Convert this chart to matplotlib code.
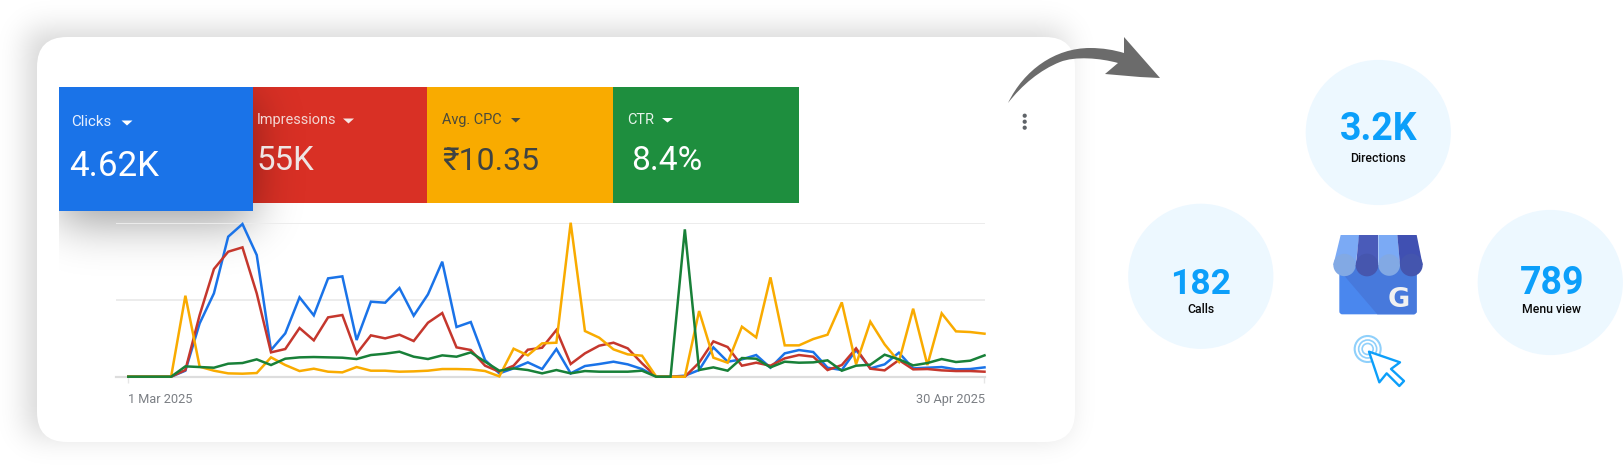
import math
import numpy as np
import matplotlib
matplotlib.use("Agg")
import matplotlib.pyplot as plt
from matplotlib.patches import Rectangle, Circle, Polygon, FancyBboxPatch, PathPatch
from matplotlib.path import Path

days = list(range(61))
x_tick_days = [0, 60]
x_tick_labels = ["1 Mar 2025", "30 Apr 2025"]
grid_levels = [0, 231, 462]

clicks = [0,0,0,0,18,160,250,420,458,365,80,130,238,184,295,301,110,225,222,266,183,247,345,149,164,50,10,25,43,23,83,10,32,38,45,37,23,0,0,3,20,88,45,52,65,27,70,80,74,27,20,80,25,37,72,25,27,29,22,23,28]
impressions = [0,0,0,0,20,185,323,375,388,250,73,83,146,109,178,185,69,124,115,126,107,162,191,88,80,33,15,33,81,87,140,38,70,93,102,85,40,0,0,0,42,106,89,33,42,33,55,65,60,20,35,85,24,19,50,22,23,19,17,17,15]
avg_cpc = [0,0,0,0,243,30,18,10,9,11,58,35,17,24,15,13,29,18,18,15,16,18,23,23,22,17,1,84,64,100,102,462,137,117,82,67,63,0,0,0,197,57,42,150,118,298,94,94,113,126,223,37,165,97,45,204,35,190,136,134,129]
ctr = [0,0,0,0,31,29,27,39,41,52,35,54,58,59,58,57,53,65,69,75,60,53,64,60,73,45,18,25,20,10,20,10,17,15,15,15,18,0,0,442,20,28,18,56,54,28,45,42,43,49,18,33,36,66,52,34,41,53,44,48,64]

tab_names = ["Clicks", "Impressions", "Avg. CPC", "CTR"]
tab_values = ["4.62K", "55K", "₹10.35", "8.4%"]
stat_values = ["3.2K", "182", "789"]
stat_names = ["Directions", "Calls", "Menu view"]

BLUE, RED, ORANGE, GREEN = "#1a73e8", "#d93025", "#f9ab00", "#1e8e3e"
LBLUE, LRED, LORANGE, LGREEN = "#1a73e8", "#c5372d", "#f9ab00", "#188038"
FONT = ["Roboto", "Noto Sans", "DejaVu Sans"]
W, H = 1623, 466
plt.rcParams["font.family"] = FONT
PX = 0.72

fig = plt.figure(figsize=(W / 100, H / 100), dpi=100, facecolor="white")
bg = fig.add_axes([0, 0, 1, 1])
bg.set_axis_off()

erf = np.vectorize(math.erf)
def blur(lo, hi, n, s):
    t = np.arange(n) + 0.5
    return 0.5 * (erf((t - lo) / (s * 2**0.5)) - erf((t - hi) / (s * 2**0.5)))

def shadow(x0, x1, y0, y1, s, a, z, clip_x=None, clip_y=None):
    al = np.outer(blur(y0, y1, H, s), blur(x0, x1, W, s)) * a
    if clip_x is not None:
        al[:, :clip_x] = 0
    if clip_y is not None:
        al[:clip_y, :] = 0
    img = np.zeros((H, W, 4))
    img[..., 3] = al
    bg.imshow(img, extent=(0, W, H, 0), zorder=z, interpolation="nearest", aspect="auto")

shadow(37 - 10, 1075 - 10, 37 - 7, 442 - 7, 15, 0.17, 1)
bg.add_patch(FancyBboxPatch((37, 37), 1038, 405, boxstyle="round,pad=0,rounding_size=30",
                            fc="white", ec="none", zorder=2))
# tabs
bg.add_patch(Rectangle((253, 87), 174, 116, fc=RED, ec="none", zorder=3))
bg.add_patch(Rectangle((427, 87), 186, 116, fc=ORANGE, ec="none", zorder=3))
bg.add_patch(Rectangle((613, 87), 186, 116, fc=GREEN, ec="none", zorder=3))
shadow(59, 253, 97, 223, 23, 0.38, 4, clip_x=59, clip_y=87)
bg.add_patch(Rectangle((59, 87), 194, 124, fc=BLUE, ec="none", zorder=5))

def label(x, y, s, fs, c, **k):
    bg.text(x, y, s, fontsize=fs * PX, color=c, zorder=6, va=k.pop("va", "baseline"), **k)

def tri(x0, x1, y0, y1, c):
    bg.add_patch(Polygon([(x0, y0), (x1, y0), ((x0 + x1) / 2, y1)], fc=c, ec="none", zorder=6))

label(71.3, 126, tab_names[0], 15, "#e8f0fe")
tri(121.5, 132.5, 120.5, 125.5, "white")
label(69.5, 176, tab_values[0], 35, "white")
label(256.5, 124, tab_names[1], 14.5, "#f3d6d3")
tri(343, 354, 118.5, 123.5, "#f6e5e3")
label(256.5, 170, tab_values[1], 33, "#eee5e4")
label(442.5, 124, tab_names[2], 14.5, "#4a4a3c")
tri(511, 520.5, 118, 122.5, "#4a4a3c")
label(442.5, 170, tab_values[2], 32, "#3f4342")
label(627.3, 124, tab_names[3], 14.5, "#e6f4ea")
tri(662, 673, 118, 122.5, "white")
label(631, 170, tab_values[3], 33.5, "white")

for yy in (115.7, 121.7, 127.7):
    bg.add_patch(Circle((1024.7, yy), 2.1, fc="#5f6368", ec="none", zorder=6))

# curved arrow
verts = [(1008, 103), (1024, 70), (1055, 48), (1090, 48), (1103, 48), (1114, 50), (1124, 53),
         (1124, 37), (1160, 78), (1140, 77), (1105, 74), (1118, 63),
         (1100, 58), (1075, 56), (1060, 62), (1040, 70), (1022, 85), (1008, 103), (1008, 103)]
codes = [Path.MOVETO, Path.CURVE4, Path.CURVE4, Path.CURVE4, Path.CURVE4, Path.CURVE4, Path.CURVE4,
         Path.LINETO, Path.LINETO, Path.LINETO, Path.LINETO, Path.LINETO,
         Path.CURVE4, Path.CURVE4, Path.CURVE4, Path.CURVE4, Path.CURVE4, Path.CURVE4, Path.CLOSEPOLY]
bg.add_patch(PathPatch(Path(verts, codes), fc="#6b6b6b", ec="none", zorder=6))

# stat circles
centers = [(1378.3, 132.5), (1200.8, 276.3), (1550.3, 282.5)]
val_xy = [(1378.7, 140), (1201, 294), (1551.7, 294)]
val_size = [37.5, 35.5, 37.5]
name_xy = [(1378, 162), (1201, 313), (1551.7, 313)]
for c, v, vs, n, vt, nt in zip(centers, val_xy, val_size, name_xy, stat_values, stat_names):
    bg.add_patch(Circle(c, 72.6, fc="#edf8ff", ec="none", zorder=3))
    label(v[0], v[1], vt, vs, "#0c9ffa", ha="center", fontweight="bold")
    label(n[0], n[1], nt, 12.3, "#0a0a0a", ha="center", fontweight="medium")

# store icon
def z(x, y):
    return (1320 + x / 3, 225 + y / 3)

body = FancyBboxPatch(z(58, 120), 232 / 3, 148 / 3, boxstyle="round,pad=0,rounding_size=3",
                      fc="#4a87ee", ec="none", zorder=6)
bg.add_patch(body)
bg.add_patch(Polygon([z(58, 135), z(72, 120), z(290, 120), z(290, 262), z(283, 268), z(172, 268)],
                     fc="#4779dc", ec="none", zorder=6))
stripes = [((62, 118), (40, 107), "#7baaf5", "#82a9e4"), ((118, 175), (107, 175), "#4a5bb9", "#4656ae"),
           ((175, 232), (175, 240), "#7baaf5", "#82a9e4"), ((232, 290), (240, 308), "#4050b2", "#4455ae")]
for (t0, t1), (b0, b1), col, col2 in stripes:
    bg.add_patch(Polygon([z(t0, 30), z(t1, 30), z(b1, 120), z(b0, 120)], fc=col, ec="none", zorder=7))
    xc, yc = z((b0 + b1) / 2, 120)
    bg.add_patch(Circle((xc, yc), (b1 - b0) / 6, fc=col2, ec="none", zorder=7))
bg.text(*z(237, 245), "G", fontsize=27 * PX, color="#f1f1f1", fontweight="bold", ha="center",
        va="baseline", zorder=8, family="DejaVu Sans")

# cursor
cx, cy = z(143, 372)
for r, lw in ((13, 1.5), (9, 1.2), (5.5, 1.2)):
    bg.add_patch(Circle((cx, cy), r, fc="none", ec="#8fd0fb", lw=lw, zorder=6))
pts = [(147, 380), (240, 412), (213, 432), (252, 468), (238, 483), (200, 445), (178, 472)]
bg.add_patch(Polygon([z(*p) for p in pts], closed=True, fc="white", ec="#0c9ffa", lw=1.7,
                     joinstyle="round", zorder=7))

bg.set_xlim(0, W)
bg.set_ylim(H, 0)

# line chart
x_left, x0_px, x1_px, x_right = 116, 128.3, 984.5, 985
y0_px, y1_px = 376.7, 222.7
ax = fig.add_axes([x_left / W, 1 - y0_px / H, (x_right - x_left) / W, (y0_px - y1_px) / H])
ax.patch.set_alpha(0)
step = (x1_px - x0_px) / 60
ax.set_xlim((x_left - x0_px) / step, (x_right - x0_px) / step)
ax.set_ylim(grid_levels[0], grid_levels[-1])
for s in ax.spines.values():
    s.set_visible(False)
ax.set_yticks(grid_levels)
ax.set_yticklabels([])
ax.tick_params(axis="y", length=0)
ax.yaxis.grid(True, color="#ececec", lw=1.4)
ax.set_axisbelow(True)
ax.axhline(0, color="#dddddd", lw=1.6, zorder=1, clip_on=False)
ax.set_xticks(x_tick_days)
ax.set_xticklabels([])
ax.tick_params(axis="x", length=4, color="#e6e6e6", width=1)
for series, col in ((clicks, LBLUE), (impressions, LRED), (avg_cpc, LORANGE), (ctr, LGREEN)):
    ax.plot(days, series, color=col, lw=1.8, clip_on=False, solid_joinstyle="miter", zorder=3)
ax.text(0, -0.105, x_tick_labels[0], transform=ax.get_xaxis_transform(), fontsize=12.8 * PX,
        color="#7b7f84", ha="left", va="top")
ax.text(60.03, -0.105, x_tick_labels[1], transform=ax.get_xaxis_transform(), fontsize=12.8 * PX,
        color="#7b7f84", ha="right", va="top")

fig.savefig("out.png", dpi=100, facecolor="white")
